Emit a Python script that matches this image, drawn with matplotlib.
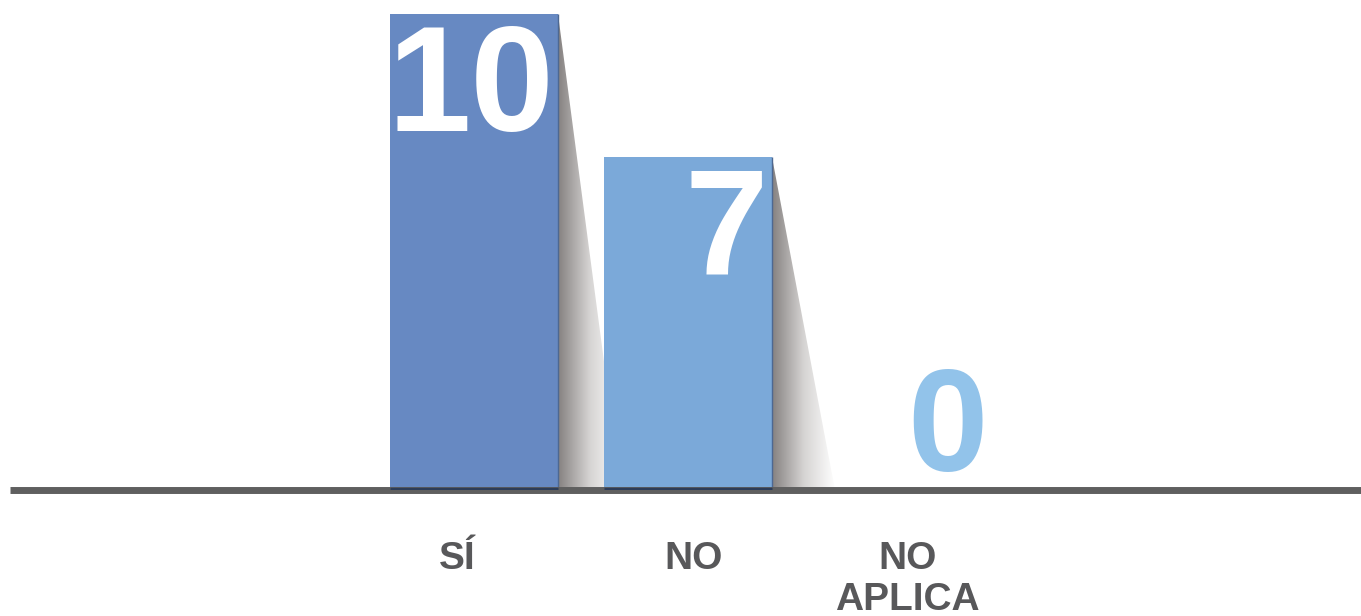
import numpy as np
import matplotlib.pyplot as plt
from matplotlib.colors import LinearSegmentedColormap
from matplotlib.patches import Polygon

categorias = ["SÍ", "NO", "NO\nAPLICA"]
valores = [10, 7, 0]
colores = ["#6789c2", "#7ba9d9", "#92c3ea"]

fig = plt.figure(figsize=(13.61, 6.16), dpi=100)
ax = fig.add_axes([10 / 1361, 126 / 616, 1351 / 1361, 476 / 616])

ancho = 0.785
x = np.arange(len(categorias))

# sombra en degradado detrás de cada barra
sombra = LinearSegmentedColormap.from_list("sombra", ["#858180", "#d6d4d3", "#ffffff"])
grad = np.linspace(0, 1, 256).reshape(1, -1)
caida = 0.295
for i, v in enumerate(valores):
    if v <= 0:
        continue
    xr = x[i] + ancho / 2
    poly = Polygon([(xr, v), (xr, 0), (xr + caida, 0)], closed=True,
                   facecolor="none", edgecolor="none")
    ax.add_patch(poly)
    im = ax.imshow(grad, cmap=sombra, extent=[xr, xr + caida, 0, v],
                   aspect="auto", zorder=1, interpolation="bilinear")
    im.set_clip_path(poly)

ax.bar(x, valores, width=ancho, color=colores, zorder=2)
for i, v in enumerate(valores):
    if v > 0:
        ax.vlines(x[i] + ancho / 2, 0, v, color="#4d6892", lw=1, zorder=3)

ax.axhline(0, color="#5f5f5f", lw=5, zorder=4, clip_on=False, solid_capstyle="butt")
for i, v in enumerate(valores):
    if v > 0:
        ax.hlines(0.03, x[i] - ancho / 2, x[i] + ancho / 2, color="#2c3c58",
                  lw=2.5, zorder=5)

# valores: dentro de la barra en blanco, o encima del eje si es cero
fuente = ["Liberation Sans", "DejaVu Sans"]
for i, v in enumerate(valores):
    xr = x[i] + ancho / 2
    if v > 0:
        ax.annotate(str(v), (xr, v), xytext=(-3, -6), textcoords="offset points",
                    ha="right", va="top", color="white", fontsize=108,
                    fontweight="bold", family=fuente, zorder=6)
    else:
        ax.annotate(str(v), (xr, 0), xytext=(1, -8), textcoords="offset points",
                    ha="right", va="bottom", color=colores[i], fontsize=104,
                    fontweight="bold", family=fuente, zorder=6)

# desplazamiento horizontal de cada etiqueta (puntos)
despl = [-12, 4, 4]
for i, c in enumerate(categorias):
    ax.annotate(c, (x[i], 0), xytext=(despl[i], -37), textcoords="offset points",
                ha="center", va="top", color="#58585a", fontsize=28,
                fontweight="bold", linespacing=1.15, family=fuente,
                annotation_clip=False)

ax.set_xlim((10 - 474) / 214, (1361 - 474) / 214)
ax.set_ylim(0, 10)
ax.axis("off")

fig.savefig("out.png", dpi=100, facecolor="white")
